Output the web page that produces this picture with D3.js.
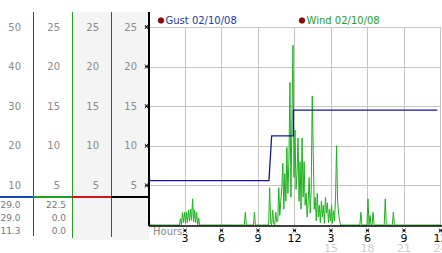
<!DOCTYPE html>
<html>
<head>
<meta charset="utf-8">
<script src="https://d3js.org/d3.v7.min.js"></script>
<style>
  body { margin: 0; background: #fff; }
  svg text { font-family: "DejaVu Sans", sans-serif; }
</style>
</head>
<body>
<div id="plot"></div>
<script>
// wind speed, one value every 5 minutes, one row per hour
var windValues = [
  0.8,0,0,0,0,0,0,0,0,0,0,0,
  0,0,0,0,0,0,0,0,0,0,0,0,
  0,0,0,0,0,0,0,0.8,0,1.6,0.3,1.6,
  0.2,1.6,0.3,1.9,0.5,2.0,0.6,3.3,0.4,1.9,0.3,1.6,
  0,0.9,0,0,0,0,0,0,0,0,0,0,
  0,0,0,0,0,0,0,0,0,0,0,0,
  0,0,0,0,0,0,0,0,0,0,0,0,
  0,0,0,0,0,0,0,0,0,0,0,1.6,
  0,0,0,0,0,0,0,0,1.6,0,0,0,
  0,0,0,0,0,0,0,0,0,0,0,4.7,
  0.3,0,1.9,0.2,0,1.6,0.4,0.5,4.7,1.2,3.0,4.7,
  7.8,2.0,6.5,3.0,9.8,4.0,8.0,18.0,3.5,14.0,22.7,6.0,
  12.0,4.5,6.5,11.0,3.0,8.0,2.0,11.0,3.5,8.0,2.5,4.0,
  1.0,3.0,6.0,1.5,4.5,16.3,9.0,2.0,3.5,0.5,4.0,1.0,
  2.5,0.3,3.0,1.0,2.5,0.2,3.5,1.5,2.8,0.3,2.0,0.5,
  2.5,0.2,1.8,0.5,3.5,10.0,3.0,1.5,0.5,0,0,0,
  0,0,0,0,0,0,0,0,0,0,0,0,
  0,0,0,0,0,1.6,0,0,0,0,0,0,
  3.3,0,1.2,0,0,1.6,0,0,0,0,0,0,
  0,0,0,0,0,3.3,0,0,0,0,0,0,
  0,1.6,0,0,0,0,0,0,0,0,0,0,
  0,0,0,0,0,0,0,0,0,0,0,0,
  0,0,0,0,0,0,0,0,0,0,0,0,
  0,0,0,0,0,0,0,0,0,0,0,0
];

// gust step line
var gustHours  = [0, 0.05, 9.86, 10.08, 11.86, 11.87, 23.7];
var gustValues = [6.8, 5.6, 5.6, 11.25, 11.25, 14.5, 14.5];

var hourTicks = [3, 6, 9, 12, 15, 18, 21, 24];
var hourLabels = ["3", "6", "9", "12", "3", "6", "9", "12"];
var hour24Ticks = [15, 18, 21, 24];
var hour24Labels = ["15", "18", "21", "24"];

var ticks25 = [5, 10, 15, 20, 25];
var ticks50 = [10, 20, 30, 40, 50];

var col1Now = ["29.0", "29.0", "11.3"];
var col2Now = ["22.5", "0.0", "0.0"];

var legendNames = ["Gust 02/10/08", "Wind 02/10/08"];

var W = 442, H = 253;
var svg = d3.select("#plot").append("svg")
    .attr("width", W)
    .attr("height", H);

var x = d3.scaleLinear().domain([0, 24]).range([149, 441]);
var y = d3.scaleLinear().domain([0, 25]).range([225, 27]);
var y50 = d3.scaleLinear().domain([0, 50]).range([225, 27]);

// left panel backgrounds
svg.append("rect").attr("x", 72).attr("y", 12).attr("width", 77).attr("height", 228)
   .style("fill", "#f4f4f4");

// left panel scale labels
var cols = [
  {right: 21, scale: y50, ticks: ticks50},
  {right: 60, scale: y, ticks: ticks25},
  {right: 99, scale: y, ticks: ticks25},
  {right: 137, scale: y, ticks: ticks25}
];
cols.forEach(function(c){
  svg.selectAll(null).data(c.ticks).enter().append("text")
     .attr("x", c.right)
     .attr("y", function(d){ return c.scale(d) + 3.5; })
     .style("text-anchor", "end")
     .style("font-size", "10px")
     .style("fill", "#8a8a8a")
     .text(function(d){ return d; });
});

// current values under the line
[{right: 20.5, vals: col1Now}, {right: 66, vals: col2Now}].forEach(function(c){
  svg.selectAll(null).data(c.vals).enter().append("text")
     .attr("x", c.right)
     .attr("y", function(d, i){ return 208 + i * 13; })
     .style("text-anchor", "end")
     .style("font-size", "9px")
     .style("fill", "#777")
     .text(function(d){ return d; });
});

// column separators
var seps = [{x: 33.5, c: "#1a45b0", y2: 236}, {x: 72.5, c: "#22a022", y2: 238}, {x: 111.5, c: "#b22020", y2: 237}];
seps.forEach(function(s){
  svg.append("line").attr("x1", s.x).attr("x2", s.x).attr("y1", 12).attr("y2", s.y2)
     .style("stroke", s.c).style("stroke-width", 1);
});
var hsegs = [[0, 33, "#1a45b0"], [33, 72, "#22a022"], [72, 111, "#d01818"], [111, 149, "#000"]];
hsegs.forEach(function(s){
  svg.append("line").attr("x1", s[0]).attr("x2", s[1]).attr("y1", 197).attr("y2", 197)
     .style("stroke", s[2]).style("stroke-width", 2);
});

// grid
svg.append("g").selectAll("line").data(ticks25).enter().append("line")
   .attr("x1", x(0)).attr("x2", x(24))
   .attr("y1", function(d){ return Math.round(y(d)) + 0.5; })
   .attr("y2", function(d){ return Math.round(y(d)) + 0.5; })
   .style("stroke", "#c4c4c4");
svg.append("g").selectAll("line").data(hourTicks).enter().append("line")
   .attr("x1", function(d){ return Math.round(x(d)) - 0.5; })
   .attr("x2", function(d){ return Math.round(x(d)) - 0.5; })
   .attr("y1", y(25)).attr("y2", y(0))
   .style("stroke", "#c4c4c4");

// little tick glyphs
function mark(g, cx, cy){
  g.append("path")
   .attr("d", "M" + (cx - 1.5) + "," + (cy - 2) + "L" + (cx + 1.5) + "," + (cy + 2) +
              "M" + (cx + 1.5) + "," + (cy - 2) + "L" + (cx - 1.5) + "," + (cy + 2) +
              "M" + (cx - 1.5) + "," + cy + "L" + (cx + 1.5) + "," + cy)
   .style("stroke", "#000").style("stroke-width", 0.9).style("fill", "none");
}
var marks = svg.append("g");
ticks25.forEach(function(d){ mark(marks, 146.5, y(d)); });
hourTicks.forEach(function(d){ mark(marks, x(d) - 0.5, 230.5); });

// wind line
var windLine = d3.line()
    .x(function(d, i){ return x(i / 12); })
    .y(function(d){ return y(d); });
svg.append("path").datum(windValues.concat([0]))
   .attr("d", windLine)
   .style("fill", "none").style("stroke", "#1db21d").style("stroke-width", 1);

// gust line
var gustLine = d3.line()
    .x(function(d){ return x(d[0]); })
    .y(function(d){ return y(d[1]); });
svg.append("path").datum(d3.zip(gustHours, gustValues))
   .attr("d", gustLine)
   .style("fill", "none").style("stroke", "#101a90").style("stroke-width", 1.3);

// axes
svg.append("line").attr("x1", 149).attr("x2", 149).attr("y1", 12).attr("y2", 226)
   .style("stroke", "#000").style("stroke-width", 2);
svg.append("line").attr("x1", 149).attr("x2", 442).attr("y1", 226).attr("y2", 226)
   .style("stroke", "#000").style("stroke-width", 1.5);

// x labels
svg.append("text").attr("x", 153).attr("y", 235)
   .style("font-size", "10px").style("fill", "#8a8a8a").text("Hours");
svg.selectAll(".hl").data(hourTicks).enter().append("text")
   .attr("class", "hl")
   .attr("x", function(d){ return x(d) - 0.5; })
   .attr("y", 242)
   .style("text-anchor", "middle")
   .style("font-size", "11px")
   .style("fill", "#000")
   .text(function(d, i){ return hourLabels[i]; });
svg.selectAll(".hl24").data(hour24Ticks).enter().append("text")
   .attr("class", "hl24")
   .attr("x", function(d){ return x(d) - 0.5; })
   .attr("y", 252)
   .style("text-anchor", "middle")
   .style("font-size", "11px")
   .style("fill", "#cfcfcf")
   .text(function(d, i){ return hour24Labels[i]; });

// legend
var leg = [{x: 161, c: "#1a3aa0"}, {x: 302, c: "#1f9e1f"}];
leg.forEach(function(l, i){
  svg.append("circle").attr("cx", l.x).attr("cy", 20.5).attr("r", 2.8)
     .style("fill", "#a00000").style("stroke", "#300").style("stroke-width", 0.6);
  svg.append("text").attr("x", l.x + 4.5).attr("y", 24)
     .style("font-size", "10px").style("fill", l.c)
     .text(legendNames[i]);
});
</script>
</body>
</html>
